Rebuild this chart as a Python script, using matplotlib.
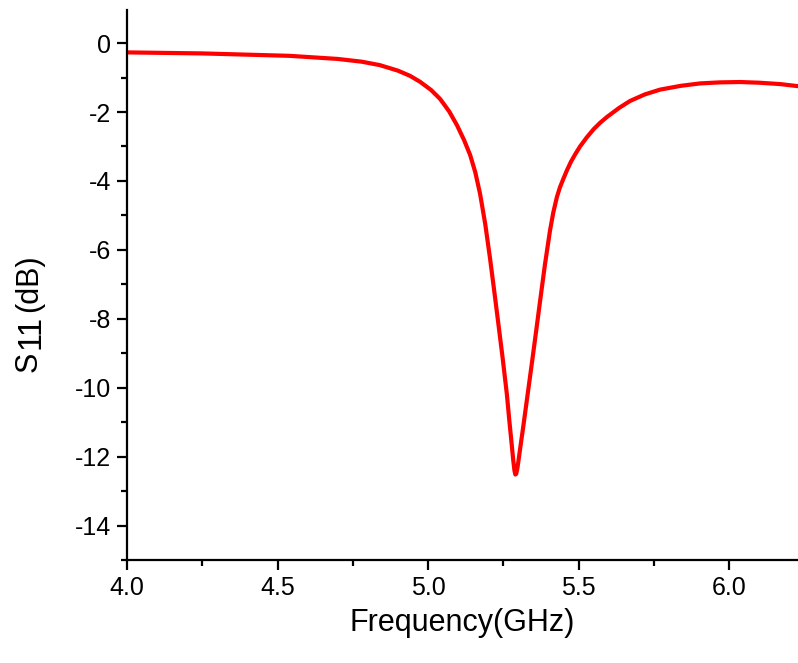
import matplotlib
matplotlib.use("Agg")
import matplotlib.pyplot as plt
from matplotlib.ticker import MultipleLocator

# S11 curve (GHz, dB)
freq = [4.00, 4.25, 4.54, 4.70, 4.78, 4.84, 4.90, 4.94, 4.973, 5.01, 5.04,
        5.07, 5.096, 5.12, 5.14, 5.157, 5.173, 5.19, 5.206, 5.22, 5.233, 5.248,
        5.262, 5.270, 5.278, 5.283, 5.287, 5.290, 5.293, 5.297, 5.302, 5.309,
        5.316, 5.330, 5.346, 5.360, 5.372, 5.388, 5.397, 5.405, 5.416, 5.428,
        5.438, 5.449, 5.462, 5.475, 5.49, 5.505, 5.527, 5.55, 5.572, 5.595,
        5.635, 5.671, 5.72, 5.771, 5.84, 5.904, 5.97, 6.037, 6.10, 6.17, 6.229]
s11 = [-0.27, -0.30, -0.37, -0.46, -0.54, -0.64, -0.80, -0.95, -1.12, -1.36,
       -1.62, -1.98, -2.38, -2.82, -3.25, -3.75, -4.38, -5.25, -6.25, -7.20,
       -8.10, -9.15, -10.20, -10.95, -11.65, -12.10, -12.40, -12.52, -12.50,
       -12.33, -12.02, -11.58, -11.15, -10.25, -9.22, -8.30, -7.50, -6.45,
       -5.92, -5.45, -4.92, -4.47, -4.19, -3.95, -3.68, -3.44, -3.21, -3.00,
       -2.74, -2.50, -2.31, -2.14, -1.88, -1.68, -1.49, -1.35, -1.24, -1.17,
       -1.14, -1.13, -1.15, -1.19, -1.25]

xticks = [4.0, 4.5, 5.0, 5.5, 6.0]
yticks = [0, -2, -4, -6, -8, -10, -12, -14]

plt.rcParams["font.family"] = ["Liberation Sans", "DejaVu Sans"]

W, H = 798, 663
fig = plt.figure(figsize=(W / 100, H / 100), dpi=100)
ax = fig.add_axes([127 / W, 1 - 560 / H, 1 - 127 / W, (560 - 10) / H])

ax.plot(freq, s11, color="#ff0000", lw=3.0, solid_joinstyle="round")

ax.set_xlim(4.0, 6.229)
ax.set_ylim(-15, 0.96)
ax.set_xticks(xticks)
ax.set_xticklabels([f"{v:.1f}" for v in xticks])
ax.set_yticks(yticks)
ax.set_yticklabels([f"{v}" for v in yticks])
ax.xaxis.set_minor_locator(MultipleLocator(0.25))
ax.yaxis.set_minor_locator(MultipleLocator(1))

for side in ("top", "right"):
    ax.spines[side].set_visible(False)
for side in ("left", "bottom"):
    ax.spines[side].set_linewidth(1.6)

ax.tick_params(which="major", direction="out", length=7.5, width=1.6,
               labelsize=18, pad=4)
ax.tick_params(which="minor", direction="out", length=4.5, width=1.6)

ax.set_xlabel("Frequency(GHz)", fontsize=22, labelpad=6)

# y label: S with a full-size, slightly lowered "11", built from pieces
fig.canvas.draw()
renderer = fig.canvas.get_renderer()
base_x, y0 = 37, 372
pieces = [("S", 0, 22, 3), ("11", 3, 23.5, 2), ("(dB)", 0, 22, 0)]
y = y0
for txt, dx, size, gap in pieces:
    t = fig.text((base_x + dx) / W, 1 - y / H, txt, fontsize=size, rotation=90,
                 rotation_mode="anchor", ha="left", va="baseline")
    bb = t.get_window_extent(renderer)
    y -= bb.height + gap

fig.savefig("out.png", dpi=100)
